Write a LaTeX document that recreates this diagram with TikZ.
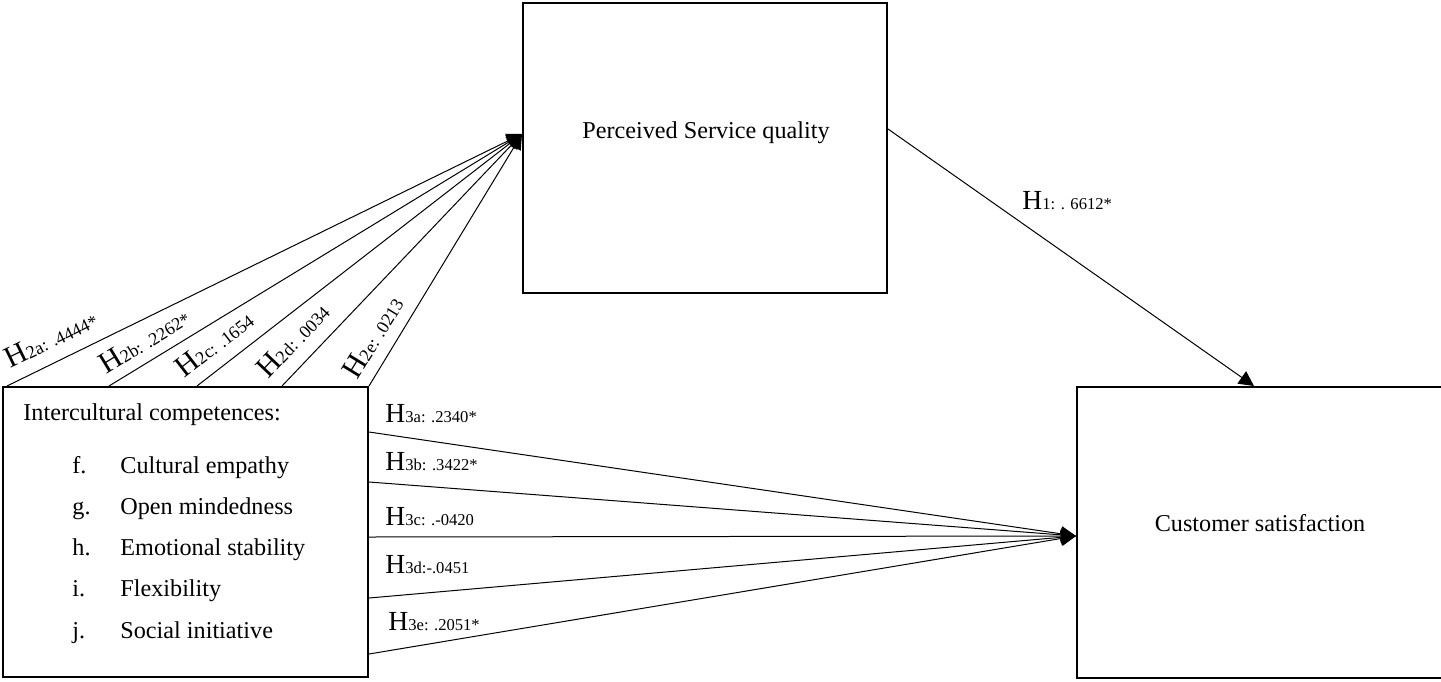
\documentclass[tikz,border=0pt]{standalone}
\usepackage{fontspec}
\setmainfont{Liberation Serif}
\usetikzlibrary{calc,arrows.meta}
\newcommand\hlab[1]{{\fontsize{13.8}{15}\selectfont H}{\fontsize{8.3}{10}\selectfont #1}}
\newcommand\hlabb[1]{{\fontsize{15}{17}\selectfont H}{\fontsize{9}{11}\selectfont #1}}
\begin{document}
\begin{tikzpicture}[x=0.5pt,y=-0.5pt,
  box/.style={draw,line width=1pt,inner sep=0pt},
  txt/.style={font=\fontsize{12.1}{14}\selectfont,inner sep=0pt},
  lab/.style={inner sep=0pt},
  conn/.style={line width=0.5pt,-{Triangle[length=7.5pt,width=7.5pt]}}]
\useasboundingbox (0,0) rectangle (1441,681);
% boxes
\node[box,minimum width=182.5pt,minimum height=145pt] (ic) at (185.5,532) {};
\node[box,minimum width=182pt,minimum height=145pt] (psq) at (705,148) {};
\node[box,minimum width=184pt,minimum height=145.5pt] (cs) at (1261,532.5) {};
% texts
\node[txt] (psqt) at (706,133) {Perceived Service quality};
\node[txt] (cst) at (1260,523) {Customer satisfaction};
\node[txt,anchor=base west] (ict) at (23,420) {Intercultural competences:};
\foreach \l/\t/\y [count=\i] in {f./Cultural empathy/473,g./Open mindedness/514,h./Emotional stability/555,i./Flexibility/596,j./Social initiative/638}{
  \node[txt,anchor=base west] (il\i) at (72,\y) {\l};
  \node[txt,anchor=base west] (it\i) at (120,\y) {\t};
}
% coordinates
\coordinate (t2) at ($(psq.north west)+(0,132)$);
\coordinate (s2a) at ($(ic.north west)+(5,0)$);
\coordinate (s2b) at ($(ic.north west)+(107,0)$);
\coordinate (s2c) at ($(ic.north west)+(195,0)$);
\coordinate (s2d) at ($(ic.north west)+(280,0)$);
\coordinate (s2e) at (ic.north east);
\coordinate (s1) at ($(psq.north east)+(0,127)$);
\coordinate (t1) at ($(cs.north west)+(178,0)$);
\coordinate (t3) at ($(cs.north west)+(0,150)$);
\coordinate (s3a) at ($(ic.north east)+(0,46)$);
\coordinate (s3b) at ($(ic.north east)+(0,96)$);
\coordinate (s3c) at ($(ic.north east)+(0,151)$);
\coordinate (s3d) at ($(ic.north east)+(0,212)$);
\coordinate (s3e) at ($(ic.north east)+(0,268)$);
% connectors
\foreach \s in {s2a,s2b,s2c,s2d,s2e}{\draw[conn] (\s) -- (t2);}
\draw[conn] (s1) -- (t1);
\foreach \s in {s3a,s3b,s3c,s3d,s3e}{\draw[conn] (\s) -- (t3);}
% H2 labels
\node[lab,rotate=26.1,anchor=base west] (l2a) at ($(s2a)+(3,-17)$) {\hlabb{2a: .4444*}};
\node[lab,rotate=31.4,anchor=base west] (l2b) at ($(s2b)+(-3,-11)$) {\hlabb{2b: .2262*}};
\node[lab,rotate=37.8,anchor=base west] (l2c) at ($(s2c)+(-13,-7)$) {\hlabb{2c: .1654}};
\node[lab,rotate=46.4,anchor=base west] (l2d) at ($(s2d)+(-14,-6)$) {\hlabb{2d: .0034}};
\node[lab,rotate=58.4,anchor=base west] (l2e) at ($(s2e)+(-12,-5)$) {\hlabb{2e: .0213}};
% H1 label
\node[lab,anchor=base west] (l1) at (1022,209) {\hlab{1: . 6612*}};
% H3 labels
\node[lab,anchor=base west] (l3a) at (385,422) {\hlab{3a: .2340*}};
\node[lab,anchor=base west] (l3b) at (385,470) {\hlab{3b: .3422*}};
\node[lab,anchor=base west] (l3c) at (385,525) {\hlab{3c: .-0420}};
\node[lab,anchor=base west] (l3d) at (385,573) {\hlab{3d:-.0451}};
\node[lab,anchor=base west] (l3e) at (388,630) {\hlab{3e: .2051*}};
\end{tikzpicture}
\end{document}
